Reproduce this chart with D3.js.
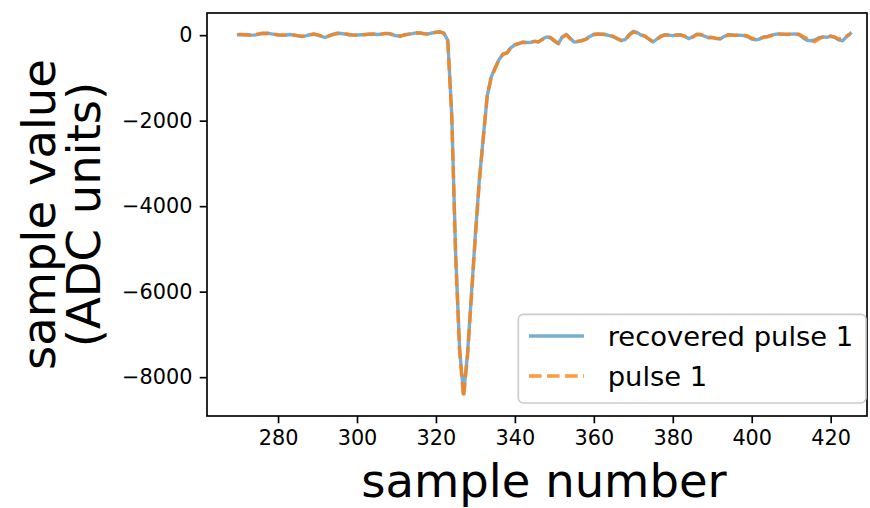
<!DOCTYPE html>
<html>
<head>
<meta charset="utf-8">
<script src="https://cdn.jsdelivr.net/npm/d3@7"></script>
<style>
  html, body { margin: 0; padding: 0; background: #fff; }
  svg { display: block; font-family: "DejaVu Sans", sans-serif; }
</style>
</head>
<body>
<svg id="chart" width="870" height="508"></svg>
<script>
// ---- data ----
const sampleStart = 270;
const pulse1 = [
  20, 15, 5, 0, 10, 30, 45, 40, 50, 25,
  10, 5, 0, 10, 5, -10, -20, -25, 0, 30,
  10, -20, -50, -20, 15, 40, 50, 35, 15, 5,
  0, 5, 15, 20, 25, 20, 25, 35, 40, 20,
  -5, -20, 0, 20, 40, 50, 55, 35, 25, 45,
  65, 75, 40, -150, -1900, -5200, -7400, -8480, -7500, -6100,
  -4700, -3400, -2400, -1400, -1000, -780, -560, -450, -420, -300,
  -220, -190, -170, -180, -160, -150, -150, -100, -60, -50,
  -120, -190, -60, 10, -80, -150, -140, -130, -100, -40,
  10, 20, 25, 20, 0, -30, -80, -120, -110, 0,
  70, 50, 10, -20, -90, -150, -100, -30, 0, 5,
  0, 0, 0, -20, -70, -50, 10, 20, -10, -50,
  -60, -70, -75, -40, 0, 0, 0, 5, 0, -20,
  -70, -100, -80, -50, -40, -10, 15, 25, 25, 20,
  20, 25, 20, -30, -80, -140, -150, -90, -50, -40,
  -25, -40, -90, -80, -20, 30
];
const recoveredPulse1 = [
  10, 10, 15, 5, 0, 20, 40, 45, 35, 20,
  5, 0, 5, 15, 0, -15, -30, -15, 10, 25,
  0, -30, -55, -10, 25, 45, 40, 25, 10, 0,
  5, 10, 10, 25, 30, 15, 20, 40, 35, 10,
  -15, -25, 10, 25, 35, 55, 50, 30, 30, 50,
  70, 80, 50, -120, -1850, -5150, -7350, -8390, -7450, -6050,
  -4650, -3380, -2380, -1420, -980, -760, -570, -440, -410, -290,
  -230, -200, -160, -170, -170, -140, -160, -90, -40, -60,
  -140, -200, -40, 20, -70, -160, -150, -120, -90, -30,
  20, 30, 20, 10, -10, -40, -90, -130, -100, 20,
  90, 60, 0, -30, -100, -160, -90, -20, 10, 0,
  -10, 5, 10, -30, -80, -40, 20, 10, -20, -60,
  -50, -80, -90, -30, 10, 5, -5, 0, -10, -40,
  -90, -110, -90, -40, -30, 0, 20, 30, 20, 15,
  25, 30, 10, -60, -120, -130, -110, -60, -40, -50,
  -20, -50, -110, -130, -40, 40
];
const xTicks = [280, 300, 320, 340, 360, 380, 400, 420];
const yTicks = [0, -2000, -4000, -6000, -8000];
const xDomain = [262, 429.2];
const seriesNames = ["recovered pulse 1", "pulse 1"];
const xLabel = "sample number";
const yLabelLines = ["sample value", "(ADC units)"];

// ---- layout ----
const svg = d3.select("#chart");
const m = { left: 207, top: 13, right: 867, bottom: 416 };
const pt = 150 / 72;
const lw = 3.4;

const x = d3.scaleLinear().domain(xDomain).range([m.left, m.right]);
const allVals = pulse1.concat(recoveredPulse1);
const [vmin, vmax] = d3.extent(allVals);
const pad = (vmax - vmin) * 0.05;
const y = d3.scaleLinear().domain([vmin - pad, vmax + pad]).range([m.bottom, m.top]);

const data1 = pulse1.map((v, i) => [sampleStart + i, v]);
const data2 = recoveredPulse1.map((v, i) => [sampleStart + i, v]);

const line = d3.line().x(d => x(d[0])).y(d => y(d[1]));
const dash = `${3.7 * lw},${1.6 * lw}`;

svg.append("defs").append("clipPath").attr("id", "clip")
  .append("rect").attr("x", m.left).attr("y", m.top)
  .attr("width", m.right - m.left).attr("height", m.bottom - m.top);

const plot = svg.append("g").attr("clip-path", "url(#clip)");
plot.append("path").datum(data2).attr("d", line)
  .attr("fill", "none").attr("stroke", "#1f77b4").attr("stroke-opacity", 0.6)
  .attr("stroke-width", lw).attr("stroke-linejoin", "round").attr("stroke-linecap", "square");
plot.append("path").datum(data1).attr("d", line)
  .attr("fill", "none").attr("stroke", "#ff7f0e").attr("stroke-opacity", 0.8)
  .attr("stroke-width", lw).attr("stroke-linejoin", "round")
  .attr("stroke-dasharray", dash);

// axes
const tickFont = 20.8;
const xAxis = d3.axisBottom(x).tickValues(xTicks).tickSize(3.5 * pt).tickPadding(3.5 * pt)
  .tickFormat(d3.format("d"));
const yAxis = d3.axisLeft(y).tickValues(yTicks).tickSize(3.5 * pt).tickPadding(3.5 * pt)
  .tickFormat(d => d < 0 ? "\u2212" + Math.abs(d) : String(d));

const gx = svg.append("g").attr("transform", `translate(0,${m.bottom})`).call(xAxis);
const gy = svg.append("g").attr("transform", `translate(${m.left},0)`).call(yAxis);
[gx, gy].forEach(g => {
  g.select(".domain").remove();
  g.selectAll(".tick line").attr("stroke", "#000").attr("stroke-width", 0.8 * pt);
  g.selectAll(".tick text").attr("fill", "#000").attr("font-size", tickFont)
    .attr("font-family", "DejaVu Sans");
});

// frame
svg.append("rect").attr("x", m.left).attr("y", m.top)
  .attr("width", m.right - m.left).attr("height", m.bottom - m.top)
  .attr("fill", "none").attr("stroke", "#000").attr("stroke-width", 0.8 * pt);

// axis labels
const labelFont = 46.5;
svg.append("text").attr("x", (m.left + m.right) / 2 + 7).attr("y", 497)
  .attr("text-anchor", "middle").attr("font-size", labelFont).text(xLabel);

const yl = svg.append("text")
  .attr("transform", `translate(0,${(m.top + m.bottom) / 2}) rotate(-90)`)
  .attr("text-anchor", "middle").attr("font-size", labelFont);
yl.append("tspan").attr("x", 0).attr("y", 55).text(yLabelLines[0]);
yl.append("tspan").attr("x", 0).attr("y", 100).text(yLabelLines[1]);

// legend
const legFont = 27.4;
const lg = svg.append("g");
lg.append("rect").attr("x", 518.3).attr("y", 314.3).attr("width", 866 - 518.3).attr("height", 403 - 314.3)
  .attr("rx", 5).attr("fill", "#fff").attr("fill-opacity", 0.8)
  .attr("stroke", "#cccccc").attr("stroke-width", 0.8 * pt);
const legItems = [
  { name: seriesNames[0], color: "#1f77b4", op: 0.6, dash: null, y: 336 },
  { name: seriesNames[1], color: "#ff7f0e", op: 0.8, dash: dash, y: 376 }
];
legItems.forEach(it => {
  const l = lg.append("line").attr("x1", 529).attr("x2", 584).attr("y1", it.y).attr("y2", it.y)
    .attr("stroke", it.color).attr("stroke-opacity", it.op).attr("stroke-width", lw);
  if (it.dash) l.attr("stroke-dasharray", it.dash);
  lg.append("text").attr("x", 607.7).attr("y", it.y).attr("dy", "0.36em")
    .attr("font-size", legFont).text(it.name);
});
</script>
</body>
</html>
